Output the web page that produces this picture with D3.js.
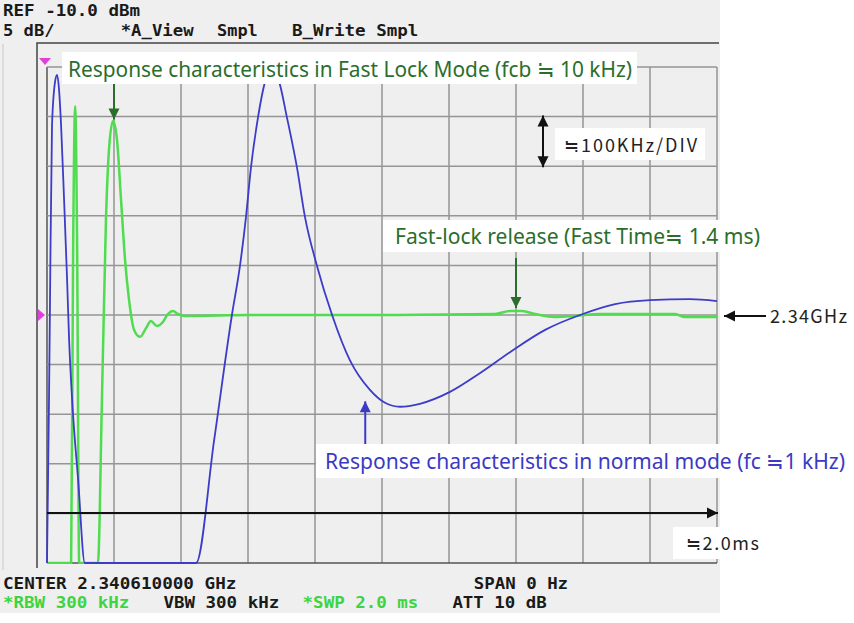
<!DOCTYPE html>
<html>
<head>
<meta charset="utf-8">
<script src="https://cdn.jsdelivr.net/npm/d3@7"></script>
<style>
	body { margin: 0; background: #fff; }
	svg { display: block; }
	.mono { font-family: 'DejaVu Sans Mono', monospace; font-weight: bold; font-size: 16px; }
	.note { font-family: 'Noto Sans', sans-serif; font-size: 21px; }
	.jp { font-family: 'Noto Sans CJK JP', sans-serif; font-size: 18px; }
</style>
</head>
<body>
<svg id="chart-svg" width="854" height="623"></svg>
<script>
// Spectrum analyser zero-span capture: frequency offset (kHz) against time (ms)

// normal mode trace (blue)
const normalTime = [0, 0.006, 0.009, 0.015, 0.024, 0.030, 0.036, 0.042, 0.051, 0.060, 0.066, 0.075, 0.093, 0.113,
	0.445, 0.499, 0.552, 0.576, 0.594, 0.609, 0.630, 0.651, 0.672, 0.693, 0.716, 0.746, 0.770, 0.806, 0.851,
	0.904, 0.964, 1.009, 1.054, 1.113, 1.203, 1.293, 1.382, 1.487, 1.591, 1.696, 1.800, 1.919, 2.0];
const normalFreq = [-500, -171, 30, 383, 470, 484, 454, 383, 232, 71, -50, -171, -333, -500,
	-500, -252, 0, 99, 198, 298, 399, 470, 494, 470, 399, 298, 198, 99, 0,
	-91, -151, -177, -185, -179, -155, -117, -75, -30, 0, 22, 30, 32, 28];

// fast lock trace (green)
const fastTime = [0, 0.072, 0.078, 0.084, 0.090, 0.096, 0.152, 0.164, 0.176, 0.185, 0.197, 0.209, 0.221, 0.233,
	0.245, 0.260, 0.278, 0.296, 0.310, 0.328, 0.346, 0.361, 0.376, 0.391, 0.412, 0.606, 0.994, 1.337, 1.382,
	1.418, 1.457, 1.516, 1.576, 1.651, 1.770, 1.875, 1.904, 2.0];
const fastFreq = [-500, -500, 131, 421, 131, -500, -500, -171, 192, 333, 391, 353, 232, 111,
	30, -30, -44, -26, -12, -22, -14, 2, 8, 2, -2, 0, 0, 2, 8,
	8, 2, -4, -2, 2, 2, 2, -4, -4];

// screen texts
const headerLine1 = [['REF -10.0 dBm', 0]];
const headerLine2 = [['5 dB/', 0], ['*A_View', 11], ['Smpl', 20], ['B_Write Smpl', 27]];
const footerLine1 = [['CENTER 2.340610000 GHz', 0], ['SPAN 0 Hz', 44]];
const footerLine2 = [['*RBW 300 kHz', 0], ['VBW 300 kHz', 15], ['*SWP 2.0 ms', 28], ['ATT 10 dB', 42]];

const timeDomain = [0, 2.0];
const freqDomain = [-500, 500];
const divisions = 10;

const svg = d3.select('#chart-svg');

const x = d3.scaleLinear(timeDomain, [47, 717]);
const y = d3.scaleLinear(freqDomain, [563, 67]);

// instrument screen
svg.append('rect').attr('x', 0).attr('y', 0).attr('width', 720).attr('height', 613).attr('fill', '#efefef');
svg.append('path')
	.attr('d', 'M37,568 V43 H719')
	.attr('fill', 'none')
	.attr('stroke', '#444')
	.attr('stroke-width', 1.5);
svg.append('line')
	.attr('x1', 3).attr('x2', 3).attr('y1', 44).attr('y2', 570)
	.attr('stroke', '#c8c8c8');

// grid
const grid = svg.append('g').attr('id', 'grid');
const xTicks = d3.range(divisions + 1).map((i) => timeDomain[0] + (i * (timeDomain[1] - timeDomain[0])) / divisions);
const yTicks = d3.range(divisions + 1).map((i) => freqDomain[0] + (i * (freqDomain[1] - freqDomain[0])) / divisions);
grid.selectAll('line.v')
	.data(xTicks)
	.enter()
	.append('line')
	.attr('class', 'v')
	.attr('x1', (d) => x(d)).attr('x2', (d) => x(d))
	.attr('y1', y(freqDomain[1])).attr('y2', y(freqDomain[0]))
	.attr('stroke', (d, i) => (i == 0 ? '#555' : '#959595'))
	.attr('stroke-width', 1.5);
grid.selectAll('line.h')
	.data(yTicks)
	.enter()
	.append('line')
	.attr('class', 'h')
	.attr('x1', x(timeDomain[0])).attr('x2', x(timeDomain[1]))
	.attr('y1', (d) => y(d)).attr('y2', (d) => y(d))
	.attr('stroke', (d, i) => (i == 0 ? '#555' : '#959595'))
	.attr('stroke-width', 1.5);

// traces
svg.append('clipPath').attr('id', 'plot-clip')
	.append('rect')
	.attr('x', x(timeDomain[0]) - 1).attr('y', y(freqDomain[1]) - 1)
	.attr('width', x(timeDomain[1]) - x(timeDomain[0]) + 2)
	.attr('height', y(freqDomain[0]) - y(freqDomain[1]) + 2);

const line = d3.line()
	.x((d) => x(d[0]))
	.y((d) => y(d[1]))
	.curve(d3.curveMonotoneX);

const traces = svg.append('g').attr('clip-path', 'url(#plot-clip)');
traces.append('path')
	.datum(d3.zip(fastTime, fastFreq))
	.attr('d', line)
	.attr('fill', 'none')
	.attr('stroke', '#4fdc4f')
	.attr('stroke-width', 2.5);
traces.append('path')
	.datum(d3.zip(normalTime, normalFreq))
	.attr('d', line)
	.attr('fill', 'none')
	.attr('stroke', '#3c3cc8')
	.attr('stroke-width', 1.8);

// markers
svg.append('path')
	.attr('d', `M${x(0) - 8},${y(500) - 9} h12 l-6,7 z`)
	.attr('fill', '#e040d8');
svg.append('path')
	.attr('d', `M${x(0) - 9},${y(0) - 6} v12 l7,-6 z`)
	.attr('fill', '#e040d8');

// instrument texts
const charW = 10.7;
function monoLine(items, baseline, colorOf) {
	svg.append('g')
		.selectAll('text')
		.data(items)
		.enter()
		.append('text')
		.attr('class', 'mono')
		.attr('x', (d) => 3 + d[1] * charW)
		.attr('y', baseline)
		.attr('textLength', (d) => d[0].length * charW - 2)
		.attr('lengthAdjust', 'spacingAndGlyphs')
		.attr('fill', colorOf)
		.style('white-space', 'pre')
		.text((d) => d[0]);
}
monoLine(headerLine1, 16, () => '#1a1a1a');
monoLine(headerLine2, 36, () => '#1a1a1a');
monoLine(footerLine1, 589, () => '#1a1a1a');
monoLine(footerLine2, 608, (d) => (d[0][0] == '*' ? '#3fd43f' : '#1a1a1a'));

// annotations
function arrow(x0, y0, x1, y1, color, head2) {
	const a = Math.atan2(y1 - y0, x1 - x0);
	const g = svg.append('g');
	g.append('line')
		.attr('x1', x0).attr('y1', y0).attr('x2', x1).attr('y2', y1)
		.attr('stroke', color).attr('stroke-width', 2);
	const head = (px, py, ang) => {
		const l = 11, w = 5.5;
		const bx = px - l * Math.cos(ang), by = py - l * Math.sin(ang);
		const nx = -Math.sin(ang) * w, ny = Math.cos(ang) * w;
		g.append('path')
			.attr('d', `M${px},${py} L${bx + nx},${by + ny} L${bx - nx},${by - ny} Z`)
			.attr('fill', color);
	};
	head(x1, y1, a);
	if (head2) head(x0, y0, a + Math.PI);
}
function labelBox(x0, y0, w, h) {
	svg.append('rect')
		.attr('x', x0).attr('y', y0).attr('width', w).attr('height', h)
		.attr('fill', '#fff');
}
function note(tx, ty, len, color, str) {
	svg.append('text').attr('class', 'note').attr('x', tx).attr('y', ty).attr('fill', color)
		.attr('textLength', len).attr('lengthAdjust', 'spacingAndGlyphs')
		.text(str);
}

const darkGreen = '#2b6e2b';
const noteBlue = '#3a3ac4';

// fast lock peak
arrow(x(0.2), 84, x(0.2), y(390) - 2, darkGreen);
labelBox(62, 52, 575, 32);
note(68, 77, 564, darkGreen, 'Response characteristics in Fast Lock Mode (fcb ≒ 10 kHz)');

// vertical scale
arrow(543, y(300) + 1, 543, y(400) - 1, '#111', true);
labelBox(555, 128, 150, 32);
svg.append('text').attr('class', 'jp').attr('x', 564).attr('y', 152).attr('fill', '#222')
	.attr('textLength', 133).attr('lengthAdjust', 'spacing')
	.text('≒100KHz/DIV');

// fast-lock release
arrow(x(1.4), 258, x(1.4), y(10) - 2, darkGreen);
labelBox(383, 220, 382, 32);
note(395, 244, 365, darkGreen, 'Fast-lock release (Fast Time≒ 1.4 ms)');

// centre frequency
arrow(766, y(0) + 1, 724, y(0) + 1, '#111');
svg.append('text').attr('class', 'jp').attr('x', 770).attr('y', y(0) + 8).attr('fill', '#222')
	.attr('textLength', 77).attr('lengthAdjust', 'spacing')
	.text('2.34GHz');

// normal mode
arrow(x(0.95), 445, x(0.95), y(-170) + 2, noteBlue);
labelBox(316, 444, 536, 34);
note(325, 469, 520, noteBlue, 'Response characteristics in normal mode (fc ≒1 kHz)');

// sweep time
arrow(x(0), 513, x(2.0) + 1, 513, '#111');
labelBox(673, 527, 94, 32);
svg.append('text').attr('class', 'jp').attr('x', 686).attr('y', 550).attr('fill', '#222')
	.attr('textLength', 73).attr('lengthAdjust', 'spacing')
	.text('≒2.0ms');
</script>
</body>
</html>
